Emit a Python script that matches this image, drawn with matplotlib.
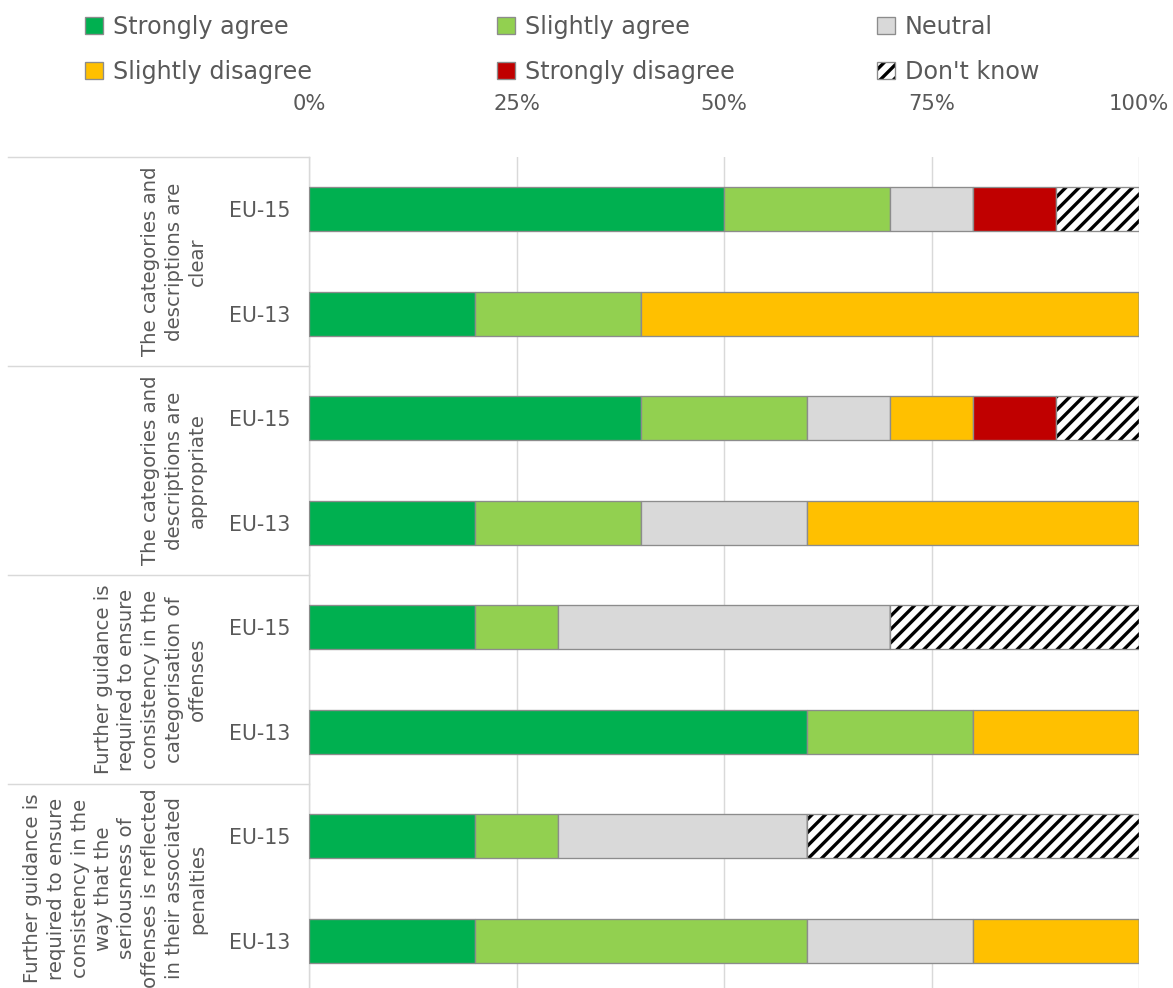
import matplotlib
matplotlib.use('Agg')
import matplotlib.pyplot as plt
from matplotlib.ticker import PercentFormatter
from matplotlib.legend_handler import HandlerTuple
import numpy as np

# rows from top to bottom, values in %
row_labels = ['EU-15', 'EU-13', 'EU-15', 'EU-13', 'EU-15', 'EU-13', 'EU-15', 'EU-13']
group_labels = [
    'The categories and\ndescriptions are\nclear',
    'The categories and\ndescriptions are\nappropriate',
    'Further guidance is\nrequired to ensure\nconsistency in the\ncategorisation of\noffenses',
    'Further guidance is\nrequired to ensure\nconsistency in the\nway that the\nseriousness of\n'
    'offenses is reflected\nin their associated\npenalties',
]
strongly_agree = [50, 20, 40, 20, 20, 60, 20, 20]
slightly_agree = [20, 20, 20, 20, 10, 20, 10, 40]
neutral = [10, 0, 10, 20, 40, 0, 30, 20]
slightly_disagree = [0, 60, 10, 40, 0, 20, 0, 20]
strongly_disagree = [10, 0, 10, 0, 0, 0, 0, 0]
dont_know = [10, 0, 10, 0, 30, 0, 40, 0]

series = [
    ('Strongly agree', strongly_agree, '#00B050'),
    ('Slightly agree', slightly_agree, '#92D050'),
    ('Neutral', neutral, '#D9D9D9'),
    ('Slightly disagree', slightly_disagree, '#FFC000'),
    ('Strongly disagree', strongly_disagree, '#C00000'),
]

txt = '#595959'
edge = '#8c8c8c'
grid = '#d9d9d9'
plt.rcParams['hatch.linewidth'] = 3.0

fig = plt.figure(figsize=(1173 / 80, 988 / 80), dpi=80)
ax = fig.add_axes([309 / 1173, -5 / 988, 830 / 1173, 836 / 988])

y = np.arange(len(row_labels))
left = np.zeros(len(y))
handles = {}
for name, vals, col in series:
    vals = np.array(vals, dtype=float)
    handles[name] = ax.barh(y, vals, left=left, height=0.42, color=col,
                            edgecolor=edge, linewidth=1.2, zorder=3)
    left += vals
dk = np.array(dont_know, dtype=float)
dk_fill = ax.barh(y, dk, left=left, height=0.42, color='white', edgecolor='black',
                  hatch='//', linewidth=0, zorder=3)
dk_edge = ax.barh(y, dk, left=left, height=0.42, color='none', edgecolor=edge,
                  linewidth=1.2, zorder=4)
handles["Don't know"] = (dk_fill, dk_edge)

ax.set_xlim(0, 100)
ax.set_ylim(len(y) - 0.5, -0.5)
ax.xaxis.tick_top()
ax.set_xticks([0, 25, 50, 75, 100])
ax.xaxis.set_major_formatter(PercentFormatter(decimals=0))
ax.tick_params(axis='x', length=0, pad=39, labelsize=19, labelcolor=txt)
ax.set_yticks(y)
ax.set_yticklabels(row_labels)
ax.tick_params(axis='y', length=0, pad=17, labelsize=18.5, labelcolor=txt)
ax.grid(axis='x', color=grid, linewidth=1.3, zorder=0)
for s in ['top', 'right', 'bottom']:
    ax.spines[s].set_visible(False)
ax.spines['left'].set_color(grid)
ax.spines['left'].set_linewidth(1.3)

# group separators and group labels on the left
trans = ax.get_yaxis_transform()
for b in [-0.5, 1.5, 3.5, 5.5]:
    ax.plot([-301 / 830, 0], [b, b], color=grid, linewidth=1.3,
            transform=trans, clip_on=False)
for i, lab in enumerate(group_labels):
    ax.text(-102 / 830, 2 * i + 0.5, lab, transform=trans, rotation=90,
            ha='right', va='center', multialignment='center',
            fontsize=17.8, color=txt, linespacing=1.3)

# legend in three columns
cols = [('Strongly agree', 'Slightly disagree', 85),
        ('Slightly agree', 'Strongly disagree', 497),
        ('Neutral', "Don't know", 877)]
for a, b, x0 in cols:
    lg = fig.legend([handles[a], handles[b]], [a, b], loc='upper left',
                    bbox_to_anchor=(x0 / 1173, 1 - 15 / 988), frameon=False,
                    fontsize=21.5, handlelength=0.74, handleheight=0.74,
                    handletextpad=0.42, labelspacing=0.87, borderpad=0,
                    borderaxespad=0, handler_map={tuple: HandlerTuple(ndivide=1)})
    for t in lg.get_texts():
        t.set_color(txt)

fig.savefig('out.png', dpi=80)
